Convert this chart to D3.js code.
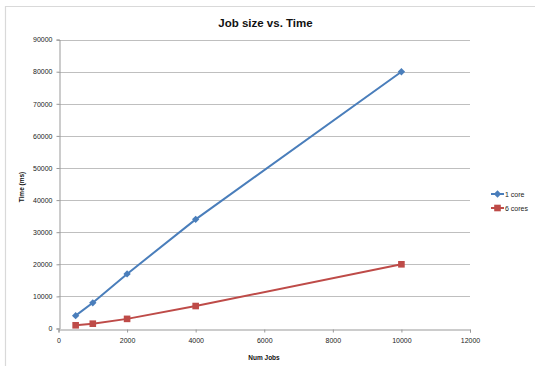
<!DOCTYPE html>
<html><head><meta charset="utf-8">
<script src="https://cdn.jsdelivr.net/npm/d3@7"></script>
<style>body{margin:0;background:#fff}svg{display:block}</style>
</head><body>
<svg id="c" width="535" height="368"></svg>
<script>
const jobs = [500, 1000, 2000, 4000, 10000];
const core1 = [4000, 8000, 17000, 34000, 80000];
const cores6 = [1000, 1500, 3000, 7000, 20000];
const xTicks = [0, 2000, 4000, 6000, 8000, 10000, 12000];
const yTicks = [0, 10000, 20000, 30000, 40000, 50000, 60000, 70000, 80000, 90000];
const seriesNames = ["1 core", "6 cores"];
const colors = ["#4a7ebb", "#be4b48"];

const svg = d3.select("#c");
const font = "Liberation Sans, Arial, sans-serif";
svg.append("path").attr("d","M5.5,366 L5.5,6.5 L540,6.5").attr("fill","none").attr("stroke","#d9d9d9").attr("stroke-width",1.2);

const x = d3.scaleLinear().domain([0,12000]).range([58.5,470]);
const y = d3.scaleLinear().domain([0,90000]).range([328.5,39.6]);

svg.append("g").selectAll("line").data(yTicks.filter(d=>d>0)).join("line")
  .attr("x1",x(0)).attr("x2",x(12000)).attr("y1",d=>Math.round(y(d))+0.5).attr("y2",d=>Math.round(y(d))+0.5)
  .attr("stroke","#bfbfbf").attr("stroke-width",1);

const xAxis = svg.append("g").attr("transform",`translate(0,${Math.round(y(0))+0.5})`)
  .call(d3.axisBottom(x).tickValues(xTicks).tickSize(3).tickPadding(6).tickFormat(d3.format("d")));
const yAxis = svg.append("g").attr("transform",`translate(${Math.round(x(0))+0.5},0)`)
  .call(d3.axisLeft(y).tickValues(yTicks).tickSize(3).tickPadding(4).tickFormat(d3.format("d")));
[xAxis,yAxis].forEach(a=>{
  a.select(".domain").attr("stroke","#999");
  a.selectAll(".tick line").attr("stroke","#999");
  a.selectAll("text").attr("font-family",font).attr("font-size",7).attr("fill","#222");
});

const line = d3.line().x(d=>x(d[0])).y(d=>y(d[1]));
const data = [jobs.map((j,i)=>[j,core1[i]]), jobs.map((j,i)=>[j,cores6[i]])];
function marker(g,k){
  if(k===0) g.append("rect").attr("x",-2.6).attr("y",-2.6).attr("width",5.2).attr("height",5.2).attr("transform","rotate(45)").attr("fill",colors[k]);
  else g.append("rect").attr("x",-3.3).attr("y",-3.3).attr("width",6.6).attr("height",6.6).attr("fill",colors[k]);
}
data.forEach((s,k)=>{
  svg.append("path").datum(s).attr("d",line).attr("fill","none").attr("stroke",colors[k]).attr("stroke-width",2);
  svg.append("g").selectAll("g").data(s).join("g")
    .attr("transform",d=>`translate(${x(d[0])},${y(d[1])})`).each(function(){marker(d3.select(this),k);});
});

seriesNames.forEach((n,k)=>{
  const ly = 194 + k*14;
  svg.append("line").attr("x1",491).attr("x2",504).attr("y1",ly).attr("y2",ly).attr("stroke",colors[k]).attr("stroke-width",2);
  marker(svg.append("g").attr("transform",`translate(497.5,${ly})`),k);
  svg.append("text").attr("x",505).attr("y",ly+2.5).attr("font-family",font).attr("font-size",7).attr("fill","#222").text(n);
});

svg.append("text").attr("x",265.5).attr("y",27).attr("text-anchor","middle").attr("font-family",font)
  .attr("font-weight","bold").attr("font-size",11.5).attr("fill","#111").text("Job size vs. Time");
svg.append("text").attr("x",264).attr("y",360).attr("text-anchor","middle").attr("font-family",font)
  .attr("font-weight","bold").attr("font-size",6.5).attr("fill","#111").text("Num Jobs");
svg.append("text").attr("transform","translate(24,187) rotate(-90)").attr("text-anchor","middle").attr("font-family",font)
  .attr("font-weight","bold").attr("font-size",6.5).attr("fill","#111").text("Time (ms)");
</script>
</body></html>
